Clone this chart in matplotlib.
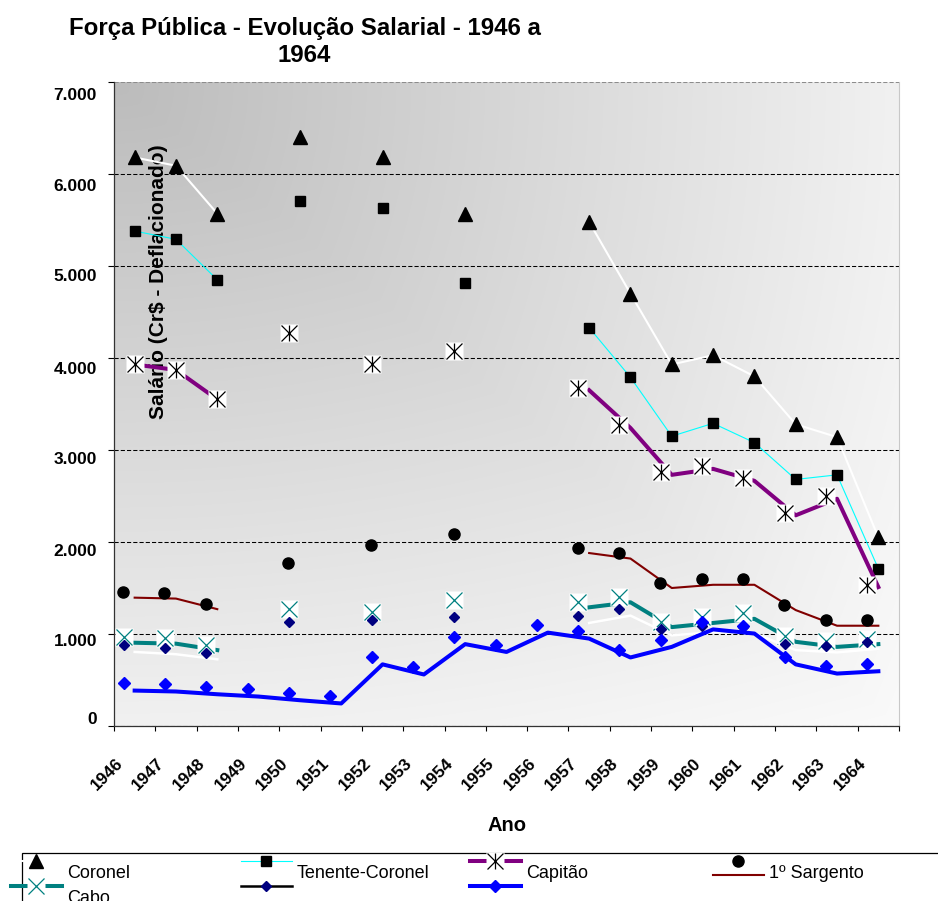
import numpy as np
import matplotlib
matplotlib.use("Agg")
import matplotlib.pyplot as plt
from matplotlib import transforms
from matplotlib.path import Path
from matplotlib.lines import Line2D
from matplotlib.patches import Rectangle
from matplotlib.legend_handler import HandlerLine2D, HandlerTuple
from matplotlib.ticker import FixedLocator, FuncFormatter, NullFormatter

plt.rcParams["font.family"] = ["Liberation Sans", "DejaVu Sans"]

nan = np.nan
anos = list(range(1946, 1965))

# salários deflacionados (Cr$); nan = ano sem dado
coronel = [6180, 6090, 5570, nan, 6400, nan, 6180, nan, 5560, nan, nan,
           5480, 4700, 3930, 4030, 3800, 3280, 3140, 2050]
tenente_coronel = [5380, 5290, 4850, nan, 5710, nan, 5630, nan, 4810, nan, nan,
                   4330, 3790, 3150, 3290, 3080, 2680, 2730, 1710]
capitao = [3930, 3870, 3550, nan, 4245, nan, 3910, nan, 4050, nan, nan,
           3650, 3240, 2730, 2795, 2665, 2290, 2470, 1510]
sargento = [1395, 1385, 1270, nan, 1710, nan, 1910, nan, 2030, nan, nan,
            1880, 1820, 1500, 1535, 1535, 1260, 1090, 1090]
cabo = [905, 895, 825, nan, 1215, nan, 1180, nan, 1305, nan, nan,
        1290, 1345, 1075, 1120, 1165, 915, 860, 890]
serie6 = [805, 780, 725, nan, 1060, nan, 1080, nan, 1115, nan, nan,
          1120, 1200, 985, 1020, 1010, 825, 800, 840]
serie7 = [385, 375, 345, 320, 280, 245, 670, 560, 890, 805, 1015,
          950, 745, 860, 1050, 1005, 670, 570, 595]

W, H, DPI = 938, 901, 100
fig = plt.figure(figsize=(W / DPI, H / DPI), dpi=DPI)
ax = fig.add_axes([114 / W, 1 - 726 / H, (899 - 114) / W, (726 - 82) / H])


def shifted(dx, dy):
    # the markers of the original sit a few pixels off their line
    return transforms.offset_copy(ax.transData, x=dx, y=dy, units="dots")


# grey "from corner" background
u = np.linspace(0, 1, 300)[None, :]
v = np.linspace(0, 1, 300)[:, None]
f = 0.5 * np.maximum(u, v) + 0.5 * np.sqrt(u ** 2 + v ** 2) / np.sqrt(2)
g = (188 + 62 * f) / 255
ax.imshow(np.dstack([g, g, g]), extent=[0, 1, 0, 1], transform=ax.transAxes,
          aspect="auto", zorder=0, interpolation="bilinear")

star = Path([(-1, -1), (1, 1), (-1, 1), (1, -1), (0, -1), (0, 1)],
            [Path.MOVETO, Path.LINETO] * 3)

x = np.array(anos)
z = 3
# Coronel
ax.plot(x, coronel, color="white", lw=1.5, zorder=z)
ax.plot(x, coronel, ls="none", marker="^", ms=10, color="black", zorder=z)
# Tenente-Coronel
ax.plot(x, tenente_coronel, color="cyan", lw=0.8, zorder=z)
ax.plot(x, tenente_coronel, ls="none", marker="s", ms=7.4, color="black", zorder=z)
# Capitão
cap = np.array(capitao, float)
ax.plot(x, cap, color="#800080", lw=2.9, zorder=z)
early = x < 1950
for sel, tr in ((early, ax.transData), (~early, shifted(-11, 2.5))):
    ax.plot(x[sel], cap[sel], ls="none", marker="s", ms=13.5, mfc="white",
            mec="none", transform=tr, zorder=z)
    ax.plot(x[sel], cap[sel], ls="none", marker=star, ms=11.5, mfc="none",
            mec="black", mew=0.9, transform=tr, zorder=z)
# 1º Sargento
ax.plot(x, sargento, color="#800000", lw=1.5, zorder=z)
ax.plot(x, sargento, ls="none", marker="o", ms=8, color="black",
        transform=shifted(-11.5, 5.5), zorder=z)
# Cabo
ax.plot(x, cabo, color="#008080", lw=2.9, zorder=z)
ax.plot(x, cabo, ls="none", marker="s", ms=13.5, mfc="white", mec="none",
        transform=shifted(-11, 5.5), zorder=z)
ax.plot(x, cabo, ls="none", marker="x", ms=11.5, mec="#008080", mew=0.9,
        transform=shifted(-11, 5.5), zorder=z)
# série 6 (losango azul-marinho)
ax.plot(x, serie6, color="white", lw=1.8, zorder=z)
ax.plot(x, serie6, ls="none", marker="D", ms=5.1, color="#000080",
        transform=shifted(-11, 6.5), zorder=z)
# série 7 (losango azul)
ax.plot(x, serie7, color="#0000ff", lw=2.9, zorder=z)
ax.plot(x, serie7, ls="none", marker="D", ms=6.3, color="#0000ff",
        transform=shifted(-11, 7.3), zorder=z)

# axes
ax.set_xlim(1945.5, 1964.5)
ax.set_ylim(0, 7000)
ax.set_axisbelow(True)
ax.yaxis.set_major_locator(FixedLocator(range(0, 7001, 1000)))
ax.yaxis.set_major_formatter(FuncFormatter(lambda val, pos: f"{int(val):,}".replace(",", ".")))
ax.tick_params(axis="y", length=4.3, width=0.8, pad=8, labelsize=12.5)
for lbl in ax.get_yticklabels():
    lbl.set_fontweight("bold")
yshift = [8, -5.5, -7.5, -8, -10, -9, -11, -12]
for lbl, dy in zip(ax.get_yticklabels(), yshift):
    lbl.set_transform(lbl.get_transform() + transforms.ScaledTranslation(0, dy / DPI, fig.dpi_scale_trans))
ax.yaxis.grid(True, color="black", lw=0.75, ls=(0, (4, 2)))
ax.get_ygridlines()[-1].set_color("0.55")

ax.xaxis.set_major_locator(FixedLocator(np.arange(1945.5, 1965, 1)))
ax.xaxis.set_major_formatter(NullFormatter())
ax.set_xticks(anos, minor=True)
ax.set_xticklabels([str(a) for a in anos], minor=True, rotation=45, ha="right",
                   va="top", fontsize=12.3, fontweight="bold")
ax.tick_params(axis="x", which="major", length=3.6, width=0.8)
ax.tick_params(axis="x", which="minor", length=0, pad=21)
for lbl in ax.get_xticklabels(minor=True):
    lbl.set_transform(lbl.get_transform() + transforms.ScaledTranslation(-9 / DPI, 0, fig.dpi_scale_trans))

ax.spines["top"].set_visible(False)
ax.spines["right"].set_color("#c8c8c8")
for s in ("left", "bottom"):
    ax.spines[s].set_color("#333333")
    ax.spines[s].set_linewidth(0.9)

ax.set_xlabel("Ano", fontsize=14.5, fontweight="bold")
ax.xaxis.set_label_coords(0.5, -0.155)
ax.xaxis.label.set_va("center")
ax.set_ylabel(r"Salário (Cr\$ - Deflacionado)", fontsize=15, fontweight="bold")
ax.yaxis.set_label_coords(0.0573, 0.69)
ax.yaxis.label.set_va("center")
ax.yaxis.label.set_zorder(5)

fig.text(304.5 / W, 1 - 42 / H, "Força Pública - Evolução Salarial - 1946 a\n1964",
         ha="center", va="center", fontsize=17.3, fontweight="bold", linespacing=1.25)


# legend: Excel draws the keys a bit above the text
class Raised(HandlerLine2D):
    def __init__(self, dy=0.0, **kw):
        super().__init__(**kw)
        self.dy = dy

    def create_artists(self, legend, orig_handle, xdescent, ydescent, width, height, fontsize, trans):
        arts = super().create_artists(legend, orig_handle, xdescent, ydescent, width, height, fontsize, trans)
        for a in arts:
            a.set_ydata(np.asarray(a.get_ydata(), float) + self.dy)
        return arts


h_cor = Line2D([], [], color="white", lw=1.5, marker="^", ms=10, mfc="black", mec="black")
h_tc = Line2D([], [], color="cyan", lw=0.8, marker="s", ms=7.4, mfc="black", mec="black")
h_cap = (Line2D([], [], color="#800080", lw=2.9),
         Line2D([], [], ls="none", marker="s", ms=13.5, mfc="white", mec="none"),
         Line2D([], [], ls="none", marker=star, ms=11.5, mfc="none", mec="black", mew=0.9))
sarg_line = Line2D([], [], color="#800000", lw=1.5)
h_sarg = (sarg_line, Line2D([], [], ls="none", marker="o", ms=8, color="black"))
h_cabo = (Line2D([], [], color="#008080", lw=2.9),
          Line2D([], [], ls="none", marker="s", ms=13.5, mfc="white", mec="none"),
          Line2D([], [], ls="none", marker="x", ms=11.5, mec="#008080", mew=0.9))
h_s6 = Line2D([], [], color="black", lw=1.8, marker="D", ms=5.1, mfc="#000080", mec="#000080")
h_s7 = Line2D([], [], color="#0000ff", lw=2.9, marker="D", ms=6.3, mfc="#0000ff", mec="#0000ff")

hmap = {Line2D: Raised(7.5), tuple: HandlerTuple(ndivide=1), sarg_line: Raised(-2.5)}
colunas = [([h_cor, h_cabo], ["Coronel", "Cabo"], 11),
           ([h_tc, h_s6], ["Tenente-Coronel", ""], 241),
           ([h_cap, h_s7], ["Capitão", ""], 470),
           ([h_sarg], ["1º Sargento"], 713)]
for hs, labs, x0 in colunas:
    fig.legend(hs, labs, loc="upper left", bbox_to_anchor=(x0 / W, 1 - 865 / H),
               frameon=False, fontsize=13, handlelength=2.8, handletextpad=0.3,
               labelspacing=0.42, borderpad=0, borderaxespad=0, handler_map=hmap)

fig.add_artist(Rectangle((22 / W, -0.5), 2, 0.5 + (1 - 853 / H), transform=fig.transFigure,
                         fill=False, ec="black", lw=0.9))

fig.savefig("out.png", dpi=DPI)
